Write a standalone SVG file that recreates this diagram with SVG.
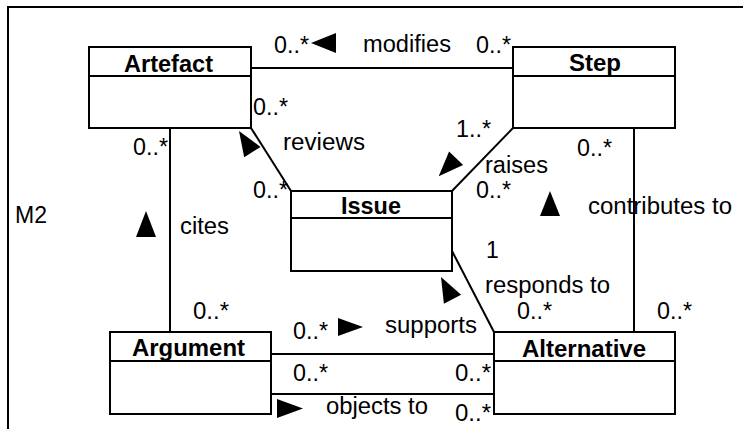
<svg xmlns="http://www.w3.org/2000/svg" width="743" height="429" viewBox="0 0 743 429">
<style>
.box{fill:#fff;stroke:#000;stroke-width:2}
.ln{stroke:#000;stroke-width:2;fill:none}
.t{font-family:"Liberation Sans",Arial,sans-serif;font-size:23px;fill:#000}
.b{font-family:"Liberation Sans",Arial,sans-serif;font-size:23px;font-weight:bold;fill:#000}
.tri{fill:#000}
</style>
<rect x="0" y="0" width="743" height="429" fill="#fff"/>
<rect id="frame" x="8" y="7" width="760" height="440" class="ln"/>
<text class="t" x="15" y="223" textLength="32" lengthAdjust="spacingAndGlyphs">M2</text>

<g id="connectors">
  <line class="ln" x1="251" y1="68" x2="513" y2="68"/>
  <line class="ln" x1="170" y1="128" x2="170" y2="332"/>
  <line class="ln" x1="634" y1="128" x2="634" y2="332"/>
  <line class="ln" x1="251" y1="128" x2="291" y2="191"/>
  <line class="ln" x1="513" y1="128" x2="452" y2="191"/>
  <line class="ln" x1="452" y1="251" x2="494" y2="332"/>
  <line class="ln" x1="271" y1="354" x2="494" y2="354"/>
  <line class="ln" x1="271" y1="394" x2="494" y2="394"/>
  <!-- direction triangles -->
  <polygon class="tri" points="311,43 336,33 336,53"/>
  <polygon class="tri" points="239,131 260.6,146.9 244.2,157.3"/>
  <polygon class="tri" points="438.7,176.3 463.1,165.1 449.1,151.6"/>
  <polygon class="tri" points="441,277 461.1,294.7 443.9,303.7"/>
  <polygon class="tri" points="146,211 156,237 136,237"/>
  <polygon class="tri" points="550,191 560,216 540,216"/>
  <polygon class="tri" points="363,327 338,318 338,336"/>
  <polygon class="tri" points="303,408.5 277,399 277,418"/>
  <!-- labels -->
  <text class="t" x="274" y="53" textLength="35" lengthAdjust="spacingAndGlyphs">0..*</text>
  <text class="t" x="363" y="52" textLength="88" lengthAdjust="spacingAndGlyphs">modifies</text>
  <text class="t" x="476" y="53" textLength="35" lengthAdjust="spacingAndGlyphs">0..*</text>
  <text class="t" x="253" y="115" textLength="35" lengthAdjust="spacingAndGlyphs">0..*</text>
  <text class="t" x="283" y="150" textLength="82" lengthAdjust="spacingAndGlyphs">reviews</text>
  <text class="t" x="253" y="198" textLength="35" lengthAdjust="spacingAndGlyphs">0..*</text>
  <text class="t" x="456" y="137" textLength="35" lengthAdjust="spacingAndGlyphs">1..*</text>
  <text class="t" x="485" y="173" textLength="63" lengthAdjust="spacingAndGlyphs">raises</text>
  <text class="t" x="476" y="198" textLength="35" lengthAdjust="spacingAndGlyphs">0..*</text>
  <text class="t" x="133" y="155" textLength="35" lengthAdjust="spacingAndGlyphs">0..*</text>
  <text class="t" x="180" y="234" textLength="49" lengthAdjust="spacingAndGlyphs">cites</text>
  <text class="t" x="193" y="319" textLength="36" lengthAdjust="spacingAndGlyphs">0..*</text>
  <text class="t" x="577" y="156" textLength="35" lengthAdjust="spacingAndGlyphs">0..*</text>
  <text class="t" x="588" y="214" textLength="144" lengthAdjust="spacingAndGlyphs">contributes to</text>
  <text class="t" x="657" y="319" textLength="35" lengthAdjust="spacingAndGlyphs">0..*</text>
  <text class="t" x="486" y="258">1</text>
  <text class="t" x="485" y="293" textLength="125" lengthAdjust="spacingAndGlyphs">responds to</text>
  <text class="t" x="517" y="319" textLength="35" lengthAdjust="spacingAndGlyphs">0..*</text>
  <text class="t" x="293" y="339" textLength="35" lengthAdjust="spacingAndGlyphs">0..*</text>
  <text class="t" x="385" y="333" textLength="92" lengthAdjust="spacingAndGlyphs">supports</text>
  <text class="t" x="293" y="381" textLength="35" lengthAdjust="spacingAndGlyphs">0..*</text>
  <text class="t" x="455" y="381" textLength="36" lengthAdjust="spacingAndGlyphs">0..*</text>
  <text class="t" x="326" y="414" textLength="102" lengthAdjust="spacingAndGlyphs">objects to</text>
  <text class="t" x="455" y="421" textLength="36" lengthAdjust="spacingAndGlyphs">0..*</text>
</g>

<g id="Artefact">
  <rect class="box" x="89" y="47" width="162" height="81"/>
  <line class="ln" x1="89" y1="76" x2="251" y2="76"/>
  <text class="b" x="124" y="71.5" textLength="89" lengthAdjust="spacingAndGlyphs">Artefact</text>
</g>
<g id="Step">
  <rect class="box" x="513" y="47" width="162" height="81"/>
  <line class="ln" x1="513" y1="76" x2="675" y2="76"/>
  <text class="b" x="569" y="71" textLength="52" lengthAdjust="spacingAndGlyphs">Step</text>
</g>
<g id="Issue">
  <rect class="box" x="291" y="191" width="161" height="80"/>
  <line class="ln" x1="291" y1="218" x2="452" y2="218"/>
  <text class="b" x="341" y="214" textLength="60" lengthAdjust="spacingAndGlyphs">Issue</text>
</g>
<g id="Argument">
  <rect class="box" x="110" y="332" width="161" height="82"/>
  <line class="ln" x1="110" y1="361" x2="271" y2="361"/>
  <text class="b" x="132" y="356" textLength="113" lengthAdjust="spacingAndGlyphs">Argument</text>
</g>
<g id="Alternative">
  <rect class="box" x="494" y="332" width="181" height="82"/>
  <line class="ln" x1="494" y1="361" x2="675" y2="361"/>
  <text class="b" x="522" y="356.5" textLength="124" lengthAdjust="spacingAndGlyphs">Alternative</text>
</g>
</svg>
